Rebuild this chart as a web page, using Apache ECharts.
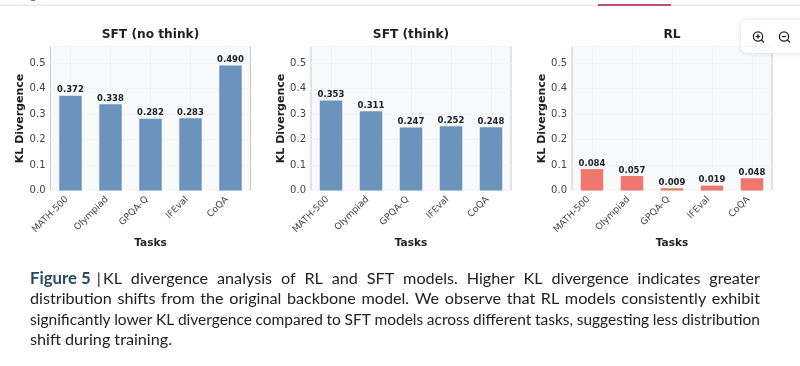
<!DOCTYPE html>
<html><head><meta charset="utf-8">
<style>html,body{margin:0;padding:0;background:#fff}#c{width:800px;height:366px}</style>
<script src="https://cdn.jsdelivr.net/npm/echarts@6/dist/echarts.min.js"></script>
</head><body><div id="c"></div>
<script>
const categories = ['MATH-500','Olympiad','GPQA-Q','IFEval','CoQA'];
const sftNoThink = [0.372,0.338,0.282,0.283,0.490];
const sftThink = [0.353,0.311,0.247,0.252,0.248];
const rl = [0.084,0.057,0.009,0.019,0.048];
const panelTitles = ['SFT (no think)','SFT (think)','RL'];
const panelValues = [sftNoThink,sftThink,rl];
const panelColors = ['#6b93bb','#6b93bb','#ee7770'];
const gridLefts = [50.5,311,572];
const captionLines = [
 ['Figure 5','|\u2009KL divergence analysis of RL and SFT models.  Higher KL divergence indicates greater'],
 ['','distribution shifts from the original backbone model.  We observe that RL models consistently exhibit'],
 ['','significantly lower KL divergence compared to SFT models across different tasks, suggesting less distribution'],
 ['','shift during training.']
];
const captionY = [279,299,320,340];
const captionSizes = [16.2,16.2,15.5,16.2];
const FONT='"DejaVu Sans"';
const chart = echarts.init(document.getElementById('c'),null,{renderer:'canvas'});
const grids=[],xAxes=[],yAxes=[],series=[],titles=[];
panelTitles.forEach((t,i)=>{
  const L=gridLefts[i];
  grids.push({left:L,top:46.5,width:200,height:144,show:true,backgroundColor:'#f7f9fb',borderColor:'#c6cacf',borderWidth:1});
  xAxes.push({gridIndex:i,type:'category',data:categories,
    axisLine:{show:false},axisTick:{show:false},
    axisLabel:{rotate:45,fontSize:9.2,color:'#444',fontFamily:FONT,margin:4,padding:[0,5,0,0],interval:0},
    name:'Tasks',nameLocation:'middle',nameGap:47,nameTextStyle:{fontSize:10.5,fontWeight:'bold',color:'#222',fontFamily:FONT}});
  yAxes.push({gridIndex:i,type:'value',min:0,max:0.565,interval:0.1,
    axisLine:{show:false},axisTick:{show:false},
    splitLine:{show:true,lineStyle:{color:'#f2f4f6',width:1}},
    axisLabel:{showMaxLabel:false,fontSize:10,color:'#444',fontFamily:FONT,margin:5,formatter:v=>v.toFixed(1)},
    name:'KL Divergence',nameLocation:'middle',nameGap:18,nameTextStyle:{fontSize:11,fontWeight:'bold',color:'#222',fontFamily:FONT}});
  series.push({type:'bar',xAxisIndex:i,yAxisIndex:i,data:panelValues[i],barWidth:22.5,
    itemStyle:{color:panelColors[i]},
    label:{show:true,position:'top',distance:1,fontSize:8.5,fontWeight:'bold',color:'#222',fontFamily:FONT,formatter:p=>p.value.toFixed(3)},
    markLine:{silent:true,symbol:'none',label:{show:false},z:1,lineStyle:{color:'#f0f2f5',width:1,type:'solid'},
      data:categories.map(c=>({xAxis:c}))}});
  titles.push({text:t,left:L+95,top:24,textAlign:'center',textStyle:{fontSize:12.2,fontWeight:'bold',color:'#222',fontFamily:FONT}});
});
const mctx=document.createElement('canvas').getContext('2d');
const boldFont='bold 16.8px Lato';
const left=30,right=760;
const graphic=[
 {type:'rect',shape:{x:0,y:4.5,width:800,height:1.5},style:{fill:'#e8e8ea'}},
 {type:'rect',shape:{x:598,y:4,width:73,height:2},style:{fill:'#c0506e'}},
 {type:'rect',shape:{x:31,y:0,width:4,height:1},style:{fill:'#c0506e'}},
 {type:'rect',shape:{x:741,y:20,width:70,height:33,r:6},style:{fill:'#fff',shadowBlur:5,shadowColor:'rgba(0,0,0,0.15)'}}
];
[[758,true],[784,false]].forEach(([cx,plus])=>{
  const s={fill:null,stroke:'#222',lineWidth:1.3};
  graphic.push({type:'circle',shape:{cx:cx,cy:36.5,r:4.6},style:s});
  graphic.push({type:'line',shape:{x1:cx+3.4,y1:39.9,x2:cx+6,y2:42.5},style:s});
  graphic.push({type:'line',shape:{x1:cx-2.2,y1:36.5,x2:cx+2.2,y2:36.5},style:s});
  if(plus)graphic.push({type:'line',shape:{x1:cx,y1:34.3,x2:cx,y2:38.7},style:s});
});
captionLines.forEach((ln,i)=>{
  const [boldPart,rest]=ln;
  const capFont=captionSizes[i]+'px Lato';
  const words=rest.split(/ +/);
  mctx.font=boldFont; const bw=boldPart?mctx.measureText(boldPart).width+6:0;
  mctx.font=capFont;
  const widths=words.map(w=>mctx.measureText(w).width);
  const total=widths.reduce((a,b)=>a+b,0);
  const justified=i<3;
  const gap=justified?(right-left-bw-total)/(words.length-1):4;
  let x=left;
  if(boldPart){graphic.push({type:'text',x:x,y:captionY[i],style:{text:boldPart,font:boldFont,fill:'#2b4a63',textVerticalAlign:'middle'}});x+=bw;}
  words.forEach((w,k)=>{
    graphic.push({type:'text',x:x,y:captionY[i],style:{text:w,font:capFont,fill:'#222',textVerticalAlign:'middle'}});
    x+=widths[k]+gap;
  });
});
chart.setOption({animation:false,backgroundColor:'#fff',title:titles,grid:grids,xAxis:xAxes,yAxis:yAxes,series:series,graphic:graphic});
</script></body></html>
